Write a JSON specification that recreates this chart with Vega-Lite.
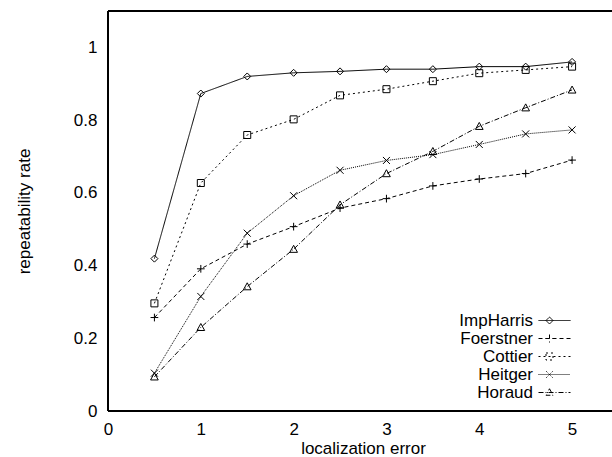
{
  "$schema": "https://vega.github.io/schema/vega-lite/v6.json",
  "autosize": {"type": "none"},
  "padding": {"left": 108, "top": 11, "right": 0, "bottom": 46},
  "width": 504,
  "height": 400,
  "background": "white",
  "config": {
    "view": {"stroke": null},
    "font": "Liberation Sans",
    "axis": {
      "labelFont": "Liberation Sans", "titleFont": "Liberation Sans",
      "labelFontSize": 17, "titleFontSize": 17, "titleFontWeight": "normal",
      "labelColor": "black", "titleColor": "black",
      "labelFlush": false, "labelOverlap": false, "grid": false, "domain": false,
      "ticks": false
    },
    "legend": {"labelFont": "Liberation Sans", "labelFontSize": 17, "labelColor": "black"}
  },
  "data": {"values": [
    {"series": "ImpHarris", "x": 0.5, "y": 0.419}, {"series": "ImpHarris", "x": 1, "y": 0.873}, {"series": "ImpHarris", "x": 1.5, "y": 0.920}, {"series": "ImpHarris", "x": 2, "y": 0.930}, {"series": "ImpHarris", "x": 2.5, "y": 0.934}, {"series": "ImpHarris", "x": 3, "y": 0.940}, {"series": "ImpHarris", "x": 3.5, "y": 0.940}, {"series": "ImpHarris", "x": 4, "y": 0.947}, {"series": "ImpHarris", "x": 4.5, "y": 0.947}, {"series": "ImpHarris", "x": 5, "y": 0.960},
    {"series": "Foerstner", "x": 0.5, "y": 0.257}, {"series": "Foerstner", "x": 1, "y": 0.391}, {"series": "Foerstner", "x": 1.5, "y": 0.459}, {"series": "Foerstner", "x": 2, "y": 0.507}, {"series": "Foerstner", "x": 2.5, "y": 0.558}, {"series": "Foerstner", "x": 3, "y": 0.584}, {"series": "Foerstner", "x": 3.5, "y": 0.619}, {"series": "Foerstner", "x": 4, "y": 0.638}, {"series": "Foerstner", "x": 4.5, "y": 0.653}, {"series": "Foerstner", "x": 5, "y": 0.690},
    {"series": "Cottier", "x": 0.5, "y": 0.296}, {"series": "Cottier", "x": 1, "y": 0.627}, {"series": "Cottier", "x": 1.5, "y": 0.759}, {"series": "Cottier", "x": 2, "y": 0.802}, {"series": "Cottier", "x": 2.5, "y": 0.868}, {"series": "Cottier", "x": 3, "y": 0.885}, {"series": "Cottier", "x": 3.5, "y": 0.907}, {"series": "Cottier", "x": 4, "y": 0.929}, {"series": "Cottier", "x": 4.5, "y": 0.938}, {"series": "Cottier", "x": 5, "y": 0.947},
    {"series": "Heitger", "x": 0.5, "y": 0.104}, {"series": "Heitger", "x": 1, "y": 0.315}, {"series": "Heitger", "x": 1.5, "y": 0.489}, {"series": "Heitger", "x": 2, "y": 0.592}, {"series": "Heitger", "x": 2.5, "y": 0.662}, {"series": "Heitger", "x": 3, "y": 0.689}, {"series": "Heitger", "x": 3.5, "y": 0.705}, {"series": "Heitger", "x": 4, "y": 0.733}, {"series": "Heitger", "x": 4.5, "y": 0.762}, {"series": "Heitger", "x": 5, "y": 0.773},
    {"series": "Horaud", "x": 0.5, "y": 0.094}, {"series": "Horaud", "x": 1, "y": 0.230}, {"series": "Horaud", "x": 1.5, "y": 0.342}, {"series": "Horaud", "x": 2, "y": 0.445}, {"series": "Horaud", "x": 2.5, "y": 0.567}, {"series": "Horaud", "x": 3, "y": 0.653}, {"series": "Horaud", "x": 3.5, "y": 0.714}, {"series": "Horaud", "x": 4, "y": 0.783}, {"series": "Horaud", "x": 4.5, "y": 0.834}, {"series": "Horaud", "x": 5, "y": 0.883}
  ]},
  "layer": [
    {"mark": {"type": "rule", "color": "black", "strokeWidth": 1}, "encoding": {"y": {"datum": 1.1}}},
    {"mark": {"type": "rule", "color": "black", "strokeWidth": 1}, "encoding": {"y": {"datum": 0}}},
    {"mark": {"type": "rule", "color": "black", "strokeWidth": 1}, "encoding": {"x": {"datum": 0}}},
    {
      "mark": {"type": "line", "color": "black", "strokeWidth": 1},
      "encoding": {
        "x": {"field": "x", "type": "quantitative", "scale": {"domain": [0, 5.43], "nice": false, "zero": false},
              "axis": {"orient": "bottom", "values": [0, 1, 2, 3, 4, 5], "format": "~g", "labelPadding": 10,
                       "title": "localization error", "titleX": 255, "titleY": 29, "titleBaseline": "top"}},
        "y": {"field": "y", "type": "quantitative", "scale": {"domain": [0, 1.1], "nice": false},
              "axis": {"values": [0, 0.2, 0.4, 0.6, 0.8, 1], "format": "~g", "labelPadding": 11,
                       "title": "repeatability rate", "titleX": -84, "titleBaseline": "middle"}},
        "strokeDash": {"field": "series", "type": "nominal",
          "scale": {"domain": ["ImpHarris", "Foerstner", "Cottier", "Heitger", "Horaud"], "range": [[1, 0], [4, 3], [2, 3], [1, 1], [5, 2, 1, 2]]},
          "legend": {
            "orient": "none", "legendX": 438, "legendY": 301, "title": null, "padding": 0,
            "symbolSize": 100, "symbolStrokeColor": "black", "symbolStrokeWidth": 1, "symbolFillColor": "transparent",
            "labelAlign": "right", "labelOffset": -30, "rowPadding": 0,
            "encode": {"symbols": {"update": {"strokeDash": {"value": [1, 0]}, "shape": {"signal": "datum.value === 'ImpHarris' ? 'M-3.2,0H3.2M-1.7,0L-1,-0.7L-0.3,0L-1,0.7Z' : datum.value === 'Foerstner' ? 'M-3.2,0H-2.4M-1.8,0H-1M-0.4,0H0.4M1,0H1.8M2.4,0H3.2M-1.8,0H-0.2M-1,-0.8V0.8' : datum.value === 'Cottier' ? 'M-3.2,0h0.4M-2.2,0h0.4M-1.2,0h0.4M-0.2,0h0.4M0.8,0h0.4M1.8,0h0.4M2.8,0h0.4M-1.7,-0.7H-0.3V0.7H-1.7Z' : datum.value === 'Heitger' ? 'M-3.2,0h0.2M-2.8,0h0.2M-2.4,0h0.2M-2,0h0.2M-1.6,0h0.2M-1.2,0h0.2M-0.8,0h0.2M-0.4,0h0.2M0,0h0.2M0.4,0h0.2M0.8,0h0.2M1.2,0h0.2M1.6,0h0.2M2,0h0.2M2.4,0h0.2M2.8,0h0.2M-1.65,-0.65L-0.35,0.65M-1.65,0.65L-0.35,-0.65' : 'M-3.2,0H-2.2M-1.8,0H-1.6M-1.2,0H-0.2M0.2,0H0.4M0.8,0H1.8M2.2,0H2.4M2.8,0H3.2M-1,-0.75L-0.3,0.55H-1.7Z'"}}}}
          }
        }
      }
    },
    {
      "mark": {"type": "point", "filled": false, "stroke": "black", "strokeWidth": 1, "size": 49, "opacity": 1},
      "encoding": {
        "x": {"field": "x", "type": "quantitative"},
        "y": {"field": "y", "type": "quantitative"},
        "shape": {
          "condition": [
            {"test": "datum.series === 'ImpHarris'", "value": "M-1,0L0,-1L1,0L0,1Z"},
            {"test": "datum.series === 'Foerstner'", "value": "M-1.1,0H1.1M0,-1.1V1.1"},
            {"test": "datum.series === 'Cottier'", "value": "M-1,-1H1V1H-1Z"},
            {"test": "datum.series === 'Heitger'", "value": "M-1,-1L1,1M-1,1L1,-1"}
          ],
          "value": "M0,-1.1L1.1,0.9H-1.1Z"
        }
      }
    }
  ]
}
